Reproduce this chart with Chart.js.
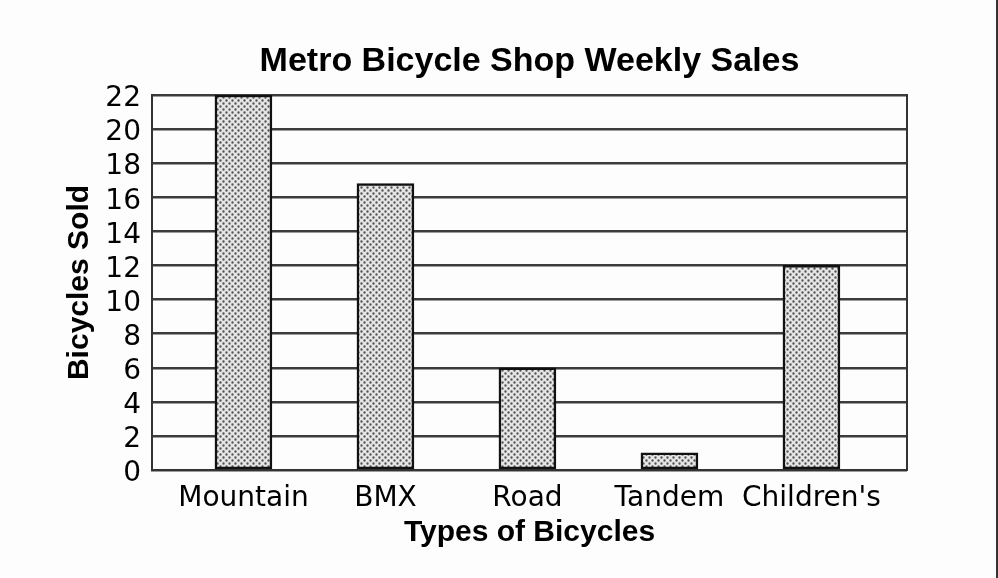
<!DOCTYPE html>
<html>
<head>
<meta charset="utf-8">
<script src="https://cdn.jsdelivr.net/npm/chart.js@4.4.0/dist/chart.umd.min.js"></script>
<style>
  html, body { margin: 0; padding: 0; background: #fdfdfd; }
  #wrap { position: relative; width: 998px; height: 578px; }
  #edge { position: absolute; top: 0; right: 0; width: 2px; height: 578px; background: #333; }
</style>
</head>
<body>
<div id="wrap">
  <canvas id="salesChart" width="998" height="578"></canvas>
  <div id="edge"></div>
</div>
<script>
// chart data
const bikeTypes = ['Mountain', 'BMX', 'Road', 'Tandem', "Children's"];
const bikesSold = [22, 16.8, 6, 1, 12];
const yTicks = [0, 2, 4, 6, 8, 10, 12, 14, 16, 18, 20, 22];

// dotted fill like the printed bars
function makeDots() {
    const tile = document.createElement('canvas');
    tile.width = 6;
    tile.height = 6;
    const c = tile.getContext('2d');
    c.fillStyle = '#e6e6e6';
    c.fillRect(0, 0, 6, 6);
    c.fillStyle = '#555';
    c.beginPath();
    c.arc(1.5, 1.5, 1.2, 0, Math.PI * 2);
    c.arc(4.5, 4.5, 1.2, 0, Math.PI * 2);
    c.fill();
    return c.createPattern(tile, 'repeat');
}

const ctx = document.getElementById('salesChart').getContext('2d');

const salesChart = new Chart(ctx, {
    type: 'bar',
    data: {
        datasets: [{
            data: bikesSold.map((v, i) => ({ x: i, y: v })),
            backgroundColor: makeDots(),
            borderColor: '#111',
            borderWidth: 2.5,
            borderSkipped: false,
            barThickness: 57
        }]
    },
    options: {
        responsive: false,
        animation: false,
        layout: { padding: 0 },
        plugins: {
            legend: { display: false },
            tooltip: { enabled: false },
            title: {
                display: true,
                text: 'Metro Bicycle Shop Weekly Sales',
                fullSize: false,
                color: '#000',
                font: { family: 'Liberation Sans', size: 34, weight: 'bold' },
                padding: { top: 41, bottom: 13.2 }
            }
        },
        scales: {
            x: {
                type: 'linear',
                offset: false,
                min: -0.644,
                max: 4.673,
                grid: { display: false },
                border: { display: true, color: '#333', width: 2 },
                afterBuildTicks: (scale) => {
                    scale.ticks = bikeTypes.map((_, i) => ({ value: i }));
                },
                afterFit: (scale) => { scale.height = 108; },
                ticks: {
                    color: '#000',
                    padding: 4,
                    maxRotation: 0,
                    autoSkip: false,
                    font: { family: 'DejaVu Sans', size: 28 },
                    callback: (value) => bikeTypes[value]
                },
                title: {
                    display: true,
                    text: 'Types of Bicycles',
                    color: '#000',
                    font: { family: 'Liberation Sans', size: 30, weight: 'bold' },
                    padding: { bottom: 27 }
                }
            },
            y: {
                min: 0,
                max: 22,
                afterBuildTicks: (scale) => {
                    scale.ticks = yTicks.map(v => ({ value: v }));
                },
                afterFit: (scale) => { scale.width = 152; },
                grid: { color: '#3c3c3c', lineWidth: 2.4, drawTicks: false },
                border: { display: true, color: '#333', width: 2 },
                ticks: {
                    color: '#000',
                    padding: 11,
                    labelOffset: 4,
                    autoSkip: false,
                    font: { family: 'DejaVu Sans', size: 28 }
                },
                title: {
                    display: true,
                    text: 'Bicycles Sold',
                    color: '#000',
                    font: { family: 'Liberation Sans', size: 30, weight: 'bold' },
                    padding: { top: 62 }
                }
            },
            yRight: {
                position: 'right',
                min: 0,
                max: 22,
                afterFit: (scale) => { scale.width = 91; },
                grid: { display: false, drawTicks: false },
                border: { display: true, color: '#333', width: 2 },
                ticks: { display: false }
            }
        }
    }
});
</script>
</body>
</html>
